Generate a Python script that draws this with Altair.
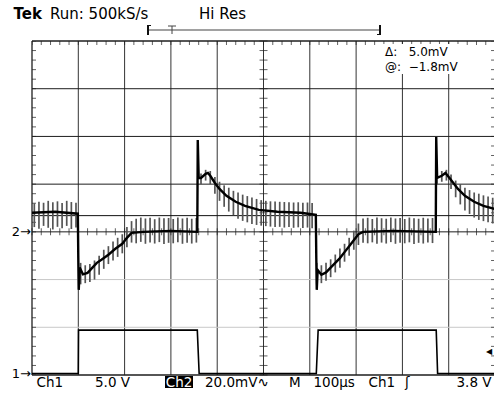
import altair as alt
import pandas as pd
import numpy as np

# ---------------- data ----------------
# Ch1: square wave, volts (5 V/div, ground at bottom graticule line)
ch1_t = [0, 100, 100.5, 357, 361, 614, 618, 873, 876, 1000]          # µs
ch1_v = [0.15, 0.15, 4.7, 4.7, 0.15, 0.15, 4.7, 4.7, 0.15, 0.15]     # V

# Ch2: trace core, mV (20 mV/div, ground at marker "2")
ch2_t = [0, 50, 99, 100, 101, 103, 110, 120, 130, 140, 150, 165, 180, 195, 205, 215, 240, 300, 357,
         358, 360, 365, 375, 380, 385, 395, 405, 420, 440, 460, 490, 530, 580, 613,
         614, 615, 617, 625, 635, 645, 655, 665, 675, 685, 695, 705, 715, 780, 872,
         873, 875, 885, 893, 900, 910, 920, 935, 955, 975, 1000]
ch2_v = [8.0, 8.4, 7.6, -10.9, -24.3, -15.0, -17.8, -17.2, -15.1, -13.0, -11.7, -9.6, -7.1, -5.0, -2.5, -0.4, 0.0, 0.4, 0.0,
         38.5, 22.6, 22.6, 24.3, 24.7, 23.5, 20.5, 18.0, 15.1, 12.6, 10.9, 9.2, 8.4, 8.0, 7.1,
         -10.9, -24.3, -16.0, -18.0, -17.0, -15.0, -13.0, -11.0, -8.5, -6.0, -3.5, -1.0, 0.0, 0.4, 0.0,
         39.8, 22.6, 23.5, 24.7, 23.0, 20.5, 18.0, 15.1, 12.6, 10.9, 9.6]

# Ch2 ripple envelope (top / bottom of the noise strokes), mV
noise_t = list(range(5, 1000, 10))
noise_hi = [12.0, 12.6, 12.2, 13.0, 12.4, 12.8, 12.1, 13.0, 12.5, 12.2,
            -13.0, -14.0, -13.5, -12.0, -10.0, -7.5, -6.0, -4.0, -2.5, -1.0,
            2.0, 4.5, 5.5, 6.0, 5.6, 5.9, 5.3, 6.0, 5.7, 5.8,
            5.4, 6.0, 5.6, 5.9, 5.5, 5.8, 24.5, 26.0, 25.5, 23.0,
            21.0, 19.5, 18.5, 17.2, 16.5, 15.6, 15.0, 14.4, 13.8, 13.3,
            13.0, 12.8, 12.7, 12.6, 12.5, 12.4, 12.3, 12.4, 12.2, 12.3,
            12.1, -13.0, -14.0, -13.0, -11.5, -9.5, -7.0, -5.0, -2.5, 0.5,
            3.5, 5.6, 5.9, 5.4, 6.0, 5.7, 5.5, 6.0, 5.6, 5.8,
            5.4, 6.0, 5.7, 5.5, 5.9, 5.6, 5.8, 24.0, 25.5, 26.0,
            24.0, 21.5, 20.0, 18.5, 17.5, 16.5, 16.0, 15.3, 14.8, 14.3]
noise_lo = [2.0, 1.3, 2.5, 1.7, 1.0, 2.1, 1.5, 2.5, 1.2, 1.8,
            -22.0, -21.5, -21.0, -20.0, -18.0, -15.5, -13.5, -12.0, -10.5, -9.0,
            -6.5, -4.5, -4.8, -4.2, -5.0, -4.5, -4.9, -4.3, -5.1, -4.6,
            -4.8, -4.4, -5.0, -4.6, -4.9, -4.5, 20.0, 21.5, 20.0, 16.0,
            13.0, 10.5, 8.5, 7.0, 5.5, 4.6, 4.0, 3.3, 2.9, 2.6,
            2.4, 2.2, 2.0, 2.1, 1.8, 2.0, 1.7, 1.9, 1.6, 1.8,
            1.5, -22.0, -21.5, -20.5, -19.0, -17.0, -15.0, -12.5, -10.0, -7.5,
            -5.5, -4.6, -4.8, -4.4, -5.0, -4.5, -4.9, -4.3, -5.0, -4.6,
            -4.8, -4.4, -5.1, -4.6, -4.9, -4.5, -4.7, 20.0, 21.0, 21.5,
            18.0, 14.5, 11.5, 9.0, 7.5, 6.0, 5.0, 4.5, 4.0, 3.5]

cursor_mv = [6.8]

CH1_V_PER_DIV = 5.0
CH1_GROUND_DIV = -3.0
CH2_MV_PER_DIV = 20.0

# graticule
major_t = [100, 200, 300, 400, 500, 600, 700, 800, 900]
dark_div = [3, 2, 1, 0]
light_div = [-1, -2]
minor_t = list(np.arange(0, 1001, 20))
minor_div = list(np.round(np.arange(-3, 4.01, 0.2), 2))

# ---------------- chart ----------------
W, H = 462, 334
xs = alt.Scale(domain=[0, 997.8], nice=False, zero=False)
ys = alt.Scale(domain=[-3, 4], nice=False, zero=False)
FONT = "DejaVu Sans"
NB = "\u00a0"


def X(f):
    return alt.X(f, type="quantitative", scale=xs, axis=None)


def Y(f):
    return alt.Y(f, type="quantitative", scale=ys, axis=None)


one = pd.DataFrame({"k": [0]})
layers = []

# grid lines
layers.append(alt.Chart(pd.DataFrame({"t": major_t})).mark_rule(color="#333333", strokeWidth=1).encode(x=X("t")))
layers.append(alt.Chart(pd.DataFrame({"d": light_div})).mark_rule(color="#c8c8c8", strokeWidth=1).encode(y=Y("d")))
layers.append(alt.Chart(pd.DataFrame({"d": dark_div})).mark_rule(color="#1e1e1e", strokeWidth=1).encode(y=Y("d")))
# borders
layers.append(alt.Chart(pd.DataFrame({"t": [0]})).mark_rule(color="#1e1e1e", strokeWidth=1.3).encode(x=X("t")))
layers.append(alt.Chart(pd.DataFrame({"d": [4, -3]})).mark_rule(color="#1e1e1e", strokeWidth=1.3).encode(y=Y("d")))

# minor ticks
tk_t = pd.DataFrame({"t": minor_t})
tk_d = pd.DataFrame({"d": minor_div})
layers.append(alt.Chart(tk_t).transform_calculate(d="0").mark_tick(orient="vertical", size=7, thickness=1, color="#1e1e1e")
              .encode(x=X("t"), y=Y("d:Q")))
layers.append(alt.Chart(tk_t).transform_calculate(d="4").mark_tick(orient="vertical", size=8, thickness=1, color="#1e1e1e", clip=True)
              .encode(x=X("t"), y=Y("d:Q")))
layers.append(alt.Chart(tk_d).transform_calculate(t="500").mark_tick(orient="horizontal", size=8, thickness=1, color="#1e1e1e")
              .encode(x=X("t:Q"), y=Y("d")))
layers.append(alt.Chart(tk_d).transform_calculate(t="0").mark_tick(orient="horizontal", size=8, thickness=1, color="#1e1e1e", clip=True)
              .encode(x=X("t:Q"), y=Y("d")))
layers.append(alt.Chart(tk_d).transform_calculate(t="1000").mark_tick(orient="horizontal", size=8, thickness=1, color="#1e1e1e", clip=True)
              .encode(x=X("t:Q"), y=Y("d")))

# cursor line
layers.append(alt.Chart(pd.DataFrame({"mv": cursor_mv})).transform_calculate(d=f"datum.mv / {CH2_MV_PER_DIV}")
              .mark_rule(color="#111", strokeWidth=1).encode(y=Y("d:Q")))

# Ch1 trace
ch1 = pd.DataFrame({"t": ch1_t, "v": ch1_v})
layers.append(alt.Chart(ch1).transform_calculate(d=f"{CH1_GROUND_DIV} + datum.v / {CH1_V_PER_DIV}")
              .mark_line(color="black", strokeWidth=1.6).encode(x=X("t"), y=Y("d:Q"), order="t:Q"))

# Ch2 ripple strokes
nz = pd.DataFrame({"t": noise_t, "hi": noise_hi, "lo": noise_lo})
layers.append(alt.Chart(nz).transform_calculate(hd=f"datum.hi / {CH2_MV_PER_DIV}", ld=f"datum.lo / {CH2_MV_PER_DIV}")
              .mark_rule(color="#555555", strokeWidth=1.7).encode(x=X("t"), y=Y("hd:Q"), y2="ld:Q"))
# Ch2 core
ch2 = pd.DataFrame({"t": ch2_t, "v": ch2_v})
layers.append(alt.Chart(ch2).transform_calculate(d=f"datum.v / {CH2_MV_PER_DIV}")
              .mark_line(color="black", strokeWidth=2.4).encode(x=X("t"), y=Y("d:Q"), order="t:Q"))


def label(text, x, y, size=13.5, weight="normal", align="left", color="black", baseline="alphabetic"):
    return alt.Chart(one).mark_text(text=text, font=FONT, fontSize=size, fontWeight=weight, align=align,
                                    baseline=baseline, color=color).encode(x=alt.value(x), y=alt.value(y))


def seg(x1, x2, y1, y2, color="#333", w=1.0):
    return alt.Chart(one).mark_rule(color=color, strokeWidth=w).encode(
        x=alt.value(x1), x2=alt.value(x2), y=alt.value(y1), y2=alt.value(y2))


def box(x1, x2, y1, y2, color):
    return alt.Chart(one).mark_rect(color=color).encode(
        x=alt.value(x1), x2=alt.value(x2), y=alt.value(y1), y2=alt.value(y2))


# offsets: plot origin is at (32, 41) of the page
OX, OY = 32, 41

# header
layers.append(label("Tek", 13.5 - OX, 18.5 - OY, size=15, weight="bold"))
layers.append(label("Run: 500kS/s", 50 - OX, 18.5 - OY, size=15))
layers.append(label("Hi Res", 199 - OX, 18.5 - OY, size=15))
# record bracket
layers.append(seg(148 - OX, 380 - OX, 30 - OY, 30 - OY, color="#444", w=1.2))
layers.append(seg(148 - OX, 148 - OX, 25 - OY, 35 - OY, color="#111", w=2))
layers.append(seg(148 - OX, 151 - OX, 25.5 - OY, 25.5 - OY, color="#111", w=1))
layers.append(seg(380 - OX, 380 - OX, 25 - OY, 35 - OY, color="#111", w=2))
layers.append(seg(377 - OX, 380 - OX, 34.5 - OY, 34.5 - OY, color="#111", w=1))
layers.append(seg(168 - OX, 176 - OX, 26 - OY, 26 - OY, color="#444", w=1))
layers.append(seg(172 - OX, 172 - OX, 26 - OY, 34 - OY, color="#444", w=1))

# cursor readout
layers.append(box(383 - OX, 462 - OX, 44 - OY, 74 - OY, "white"))
layers.append(label("Δ:" + NB * 3 + "5.0mV", 385 - OX, 56 - OY, size=12))
layers.append(label("@:" + NB * 2 + "−1.8mV", 385 - OX, 71 - OY, size=12))

# channel ground markers
layers.append(label("2→", 31 - OX, 232 - OY, size=13, align="right", baseline="middle"))
layers.append(label("1→", 31 - OX, 374 - OY, size=13, align="right", baseline="middle"))
# trigger level marker
layers.append(label("◀", 489 - OX, 352 - OY, size=8, align="center", baseline="middle"))

# status line
SB = 386.5 - OY
layers.append(label("Ch1", 36.5 - OX, SB))
layers.append(label("5.0 V", 95 - OX, SB))
layers.append(box(165 - OX, 193 - OX, 376 - OY, 388 - OY, "black"))
layers.append(label("Ch2", 179 - OX, SB, align="center", color="white"))
layers.append(label("20.0mV∿", 205 - OX, SB))
layers.append(label("M", 289 - OX, SB))
layers.append(label("100µs", 313.5 - OX, SB))
layers.append(label("Ch1", 368.5 - OX, SB))
layers.append(label("ʃ", 405 - OX, SB))
layers.append(label("3.8 V", 491.5 - OX, SB, align="right"))

chart = alt.layer(*layers).properties(
    width=W, height=H,
    padding={"left": 32, "top": 41, "right": 0, "bottom": 20},
    autosize=alt.AutoSizeParams(type="none"),
    background="white",
).configure_view(stroke=None)

chart.save("out.html", embed_options={"renderer": "svg", "actions": False})
